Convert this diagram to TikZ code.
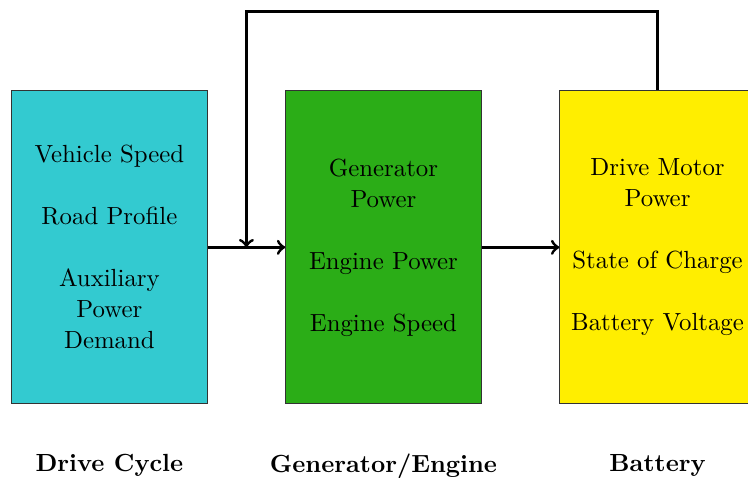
\documentclass[tikz,border=0pt]{standalone}
\usepackage{tikz}
\usetikzlibrary{calc, positioning}
\definecolor{cycfill}{RGB}{51,202,208}
\definecolor{genfill}{RGB}{43,173,23}
\definecolor{batfill}{RGB}{255,238,0}

\begin{document}
\begin{tikzpicture}[>=to,
    block/.style={draw=black!80, minimum width=2.77cm, minimum height=4.44cm,
        text width=70pt, align=center, font=\fontsize{10}{12.5}\selectfont},
    lbl/.style={font=\bfseries},
    flow/.style={->, very thick}]
    \useasboundingbox (0,0) rectangle (10.6,6.76);
    % 1. Blocks
    \node[block, fill=cycfill] (cyc) at (1.55,3.255)
        {Vehicle Speed\\[12.5pt]Road Profile\\[12.5pt]Auxiliary\\Power\\Demand};
    \node[block, fill=genfill, right=1.1cm of cyc] (gen)
        {Generator\\Power\\[12.5pt]Engine Power\\[12.5pt]Engine Speed};
    \node[block, fill=batfill, right=1.1cm of gen] (bat)
        {Drive Motor\\Power\\[12.5pt]State of Charge\\[12.5pt]Battery Voltage};
    
    % 2. Labels
    \node[lbl, below=0.58cm of cyc] (cyclbl) {Drive Cycle};
    \node[lbl, below=0.58cm of gen] (genlbl) {Generator/Engine};
    \node[lbl, below=0.58cm of bat] (batlbl) {Battery};
    
    % 3. Arrows
    \draw[flow] (cyc) -- (gen);
    \draw[flow] (gen) -- (bat);
    \coordinate (mid) at ($(cyc.east)!0.5!(gen.west)$);
    \draw[flow] (bat.north) -- ++(0,1.11) -| (mid);
\end{tikzpicture}
\end{document}
